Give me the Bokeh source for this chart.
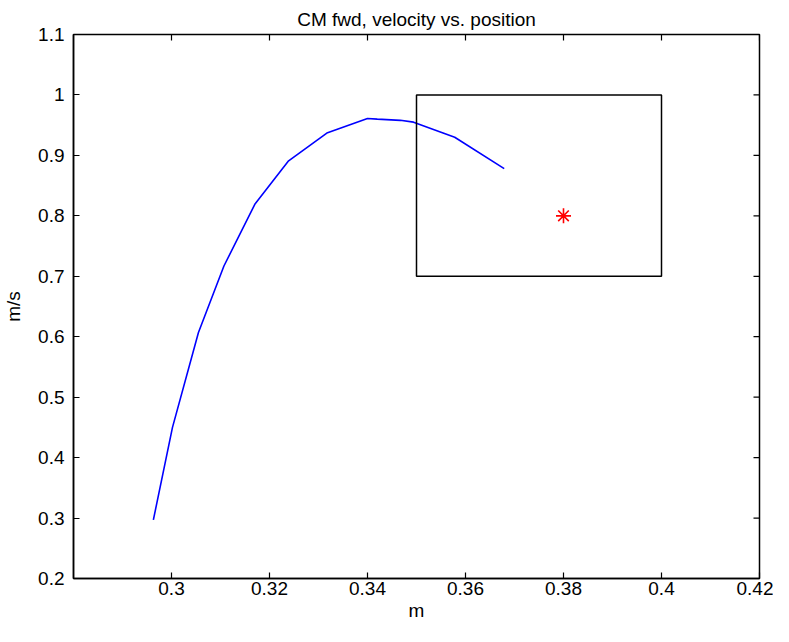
import math
from bokeh.plotting import figure
from bokeh.models import Range1d, FixedTicker, CustomJSTickFormatter
from bokeh.embed import file_html
from bokeh.resources import INLINE

# ---- data ----
pos = [0.2963, 0.3002, 0.3055, 0.3107, 0.3170, 0.3239, 0.3317, 0.3400, 0.3420,
       0.3467, 0.3494, 0.3578, 0.3679]
vel = [0.297, 0.450, 0.607, 0.717, 0.819, 0.891, 0.937, 0.961, 0.960,
       0.958, 0.955, 0.930, 0.878]

target_x = [0.38]
target_y = [0.80]

box_left = [0.35]
box_right = [0.40]
box_bottom = [0.70]
box_top = [1.00]

x_ticks = [0.30, 0.32, 0.34, 0.36, 0.38, 0.40, 0.42]
y_ticks = [0.2, 0.3, 0.4, 0.5, 0.6, 0.7, 0.8, 0.9, 1.0, 1.1]
x_lim = (0.28, 0.42)
y_lim = (0.2, 1.1)

FONT = "Liberation Sans"
FS = "19px"

p = figure(width=773, height=626, output_backend="svg", toolbar_location=None,
           x_range=Range1d(*x_lim), y_range=Range1d(*y_lim),
           title="CM fwd, velocity vs. position",
           x_axis_label="m", y_axis_label="m/s",
           min_border_left=69, min_border_right=14,
           min_border_top=34, min_border_bottom=48)

p.background_fill_color = "white"
p.border_fill_color = "white"
p.grid.visible = False
p.outline_line_color = "black"
p.outline_line_width = 1.5

p.title.align = "center"
p.title.text_font = FONT
p.title.text_font_size = FS
p.title.text_font_style = "normal"
p.title.text_color = "black"
p.title.standoff = 10

fmt = CustomJSTickFormatter(code="return String(Math.round(tick*100)/100);")

for ax, ticks in ((p.xaxis[0], x_ticks), (p.yaxis[0], y_ticks)):
    ax.ticker = FixedTicker(ticks=ticks)
    ax.formatter = fmt
    ax.major_tick_in = 6
    ax.major_tick_out = 0
    ax.minor_tick_line_color = None
    ax.axis_line_color = "black"
    ax.axis_line_width = 1.5
    ax.major_tick_line_color = "black"
    ax.major_tick_line_width = 1.2
    ax.major_label_text_font = FONT
    ax.major_label_text_font_size = FS
    ax.major_label_text_color = "black"
    ax.axis_label_text_font = FONT
    ax.axis_label_text_font_size = FS
    ax.axis_label_text_font_style = "normal"
    ax.axis_label_text_color = "black"

p.xaxis[0].major_label_standoff = 3
p.xaxis[0].axis_label_standoff = 2
p.yaxis[0].major_label_standoff = 9
p.yaxis[0].axis_label_standoff = 11

# MATLAB-style box ticks on the top and right edges (clipped to the frame)
p.scatter(x_ticks, [y_lim[1]] * len(x_ticks), marker="dash", angle=math.pi / 2,
          size=12, line_color="black", line_width=1.2)
p.scatter([x_lim[1]] * len(y_ticks), y_ticks, marker="dash",
          size=12, line_color="black", line_width=1.2)

p.line(pos, vel, line_color="#0000ff", line_width=1.6)
p.quad(left=box_left, right=box_right, bottom=box_bottom, top=box_top,
       fill_color=None, line_color="black", line_width=1.5)
p.scatter(target_x, target_y, marker="asterisk", size=15,
          line_color="#ff0000", line_width=1.6)

open("out.html", "w").write(file_html(p, INLINE))
